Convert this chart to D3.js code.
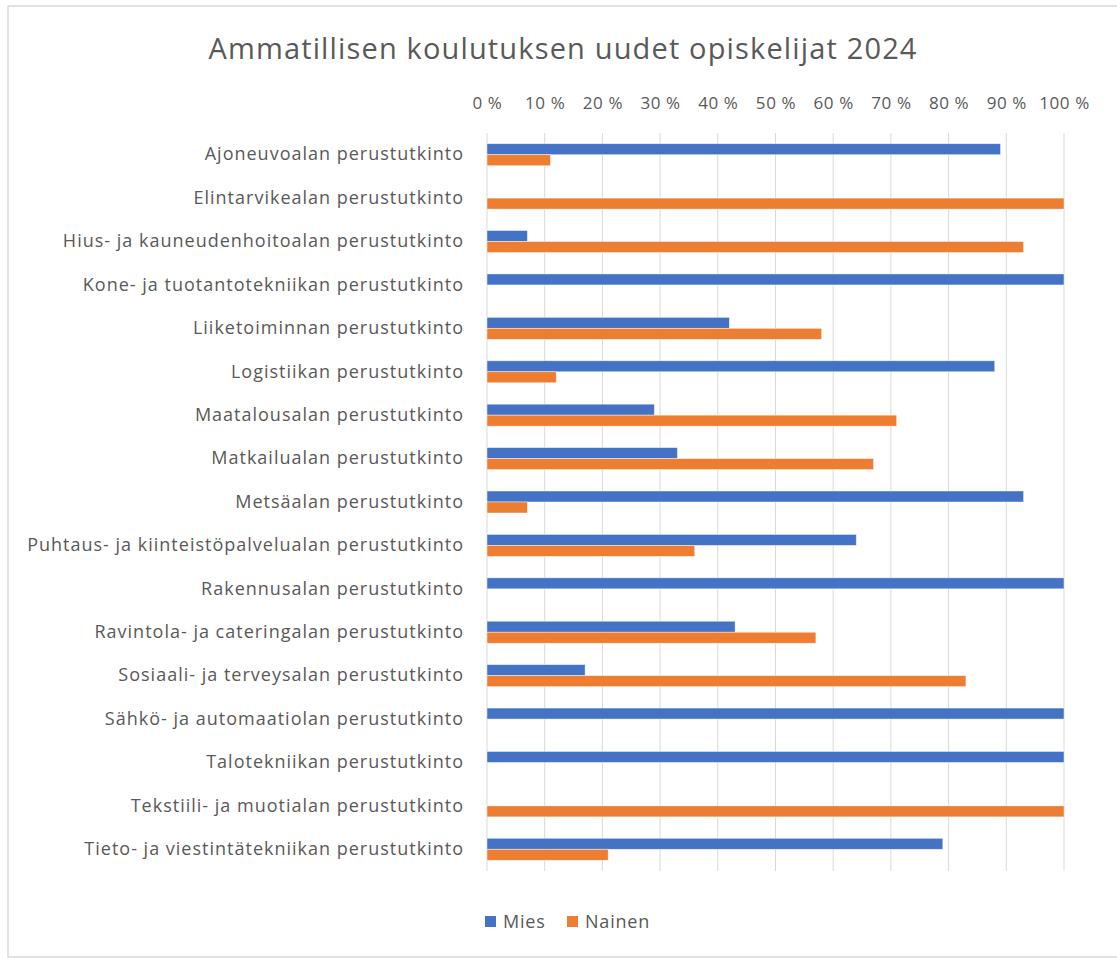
<!DOCTYPE html>
<html>
<head>
<meta charset="utf-8">
<script src="https://cdn.jsdelivr.net/npm/d3@7"></script>
<style>
  body { margin: 0; background: #fff; }
  text { font-family: "Open Sans", sans-serif; fill: #595959; }
</style>
</head>
<body>
<div id="chart"></div>
<script>
// chart data (share of new students, %)
var categories = [
  "Ajoneuvoalan perustutkinto",
  "Elintarvikealan perustutkinto",
  "Hius- ja kauneudenhoitoalan perustutkinto",
  "Kone- ja tuotantotekniikan perustutkinto",
  "Liiketoiminnan perustutkinto",
  "Logistiikan perustutkinto",
  "Maatalousalan perustutkinto",
  "Matkailualan perustutkinto",
  "Metsäalan perustutkinto",
  "Puhtaus- ja kiinteistöpalvelualan perustutkinto",
  "Rakennusalan perustutkinto",
  "Ravintola- ja cateringalan perustutkinto",
  "Sosiaali- ja terveysalan perustutkinto",
  "Sähkö- ja automaatiolan perustutkinto",
  "Talotekniikan perustutkinto",
  "Tekstiili- ja muotialan perustutkinto",
  "Tieto- ja viestintätekniikan perustutkinto"
];
var mies =   [89, 0, 7, 100, 42, 88, 29, 33, 93, 64, 100, 43, 17, 100, 100, 0, 79];
var nainen = [11, 100, 93, 0, 58, 12, 71, 67, 7, 36, 0, 57, 83, 0, 0, 100, 21];
var seriesNames = ["Mies", "Nainen"];
var seriesColors = ["#4472C4", "#ED7D31"];
var tickValues = [0, 10, 20, 30, 40, 50, 60, 70, 80, 90, 100];

var W = 1117, H = 958;
var plot = {left: 487, right: 1064, top: 133, bottom: 871};

var svg = d3.select("#chart").append("svg")
    .attr("width", W)
    .attr("height", H);

// outer chart border (right side runs off the picture)
svg.append("rect")
    .attr("x", 8).attr("y", 6)
    .attr("width", W + 10).attr("height", 951)
    .attr("fill", "#fff")
    .attr("stroke", "#d9d9d9")
    .attr("stroke-width", 1.5);

svg.append("text")
    .attr("x", 563).attr("y", 59)
    .attr("text-anchor", "middle")
    .style("font-size", "29px")
    .style("letter-spacing", "1.15px")
    .text("Ammatillisen koulutuksen uudet opiskelijat 2024");

var x = d3.scaleLinear().domain([0, 100]).range([plot.left, plot.right]);
var y = d3.scaleBand().domain(categories).range([plot.top, plot.bottom]).paddingInner(0).paddingOuter(0);
var inner = d3.scaleBand().domain(seriesNames).range([y.bandwidth() / 2 - 11, y.bandwidth() / 2 + 11]);

// gridlines
svg.append("g").selectAll("line")
    .data(tickValues)
    .join("line")
    .attr("x1", function(d) { return x(d); })
    .attr("x2", function(d) { return x(d); })
    .attr("y1", plot.top)
    .attr("y2", plot.bottom)
    .attr("stroke", "#d9d9d9")
    .attr("stroke-width", 1);

// top axis labels
var xAxis = d3.axisTop(x).tickValues(tickValues).tickSize(0).tickPadding(0)
    .tickFormat(function(d) { return d + " %"; });
var gx = svg.append("g").attr("transform", "translate(0,109)").call(xAxis);
gx.select(".domain").remove();
gx.selectAll("text")
    .style("font-size", "17px")
    .style("letter-spacing", "0.6px")
    .attr("font-family", null)
    .attr("fill", null);

// category labels
var yAxis = d3.axisLeft(y).tickSize(0).tickPadding(0);
var gy = svg.append("g").attr("transform", "translate(464,0)").call(yAxis);
gy.select(".domain").remove();
gy.selectAll("text")
    .style("font-size", "18px")
    .style("letter-spacing", "1px")
    .attr("font-family", null)
    .attr("fill", null);

// bars
var rows = categories.map(function(c, i) {
  return {cat: c, values: [mies[i], nainen[i]]};
});

var groups = svg.append("g").selectAll("g")
    .data(rows)
    .join("g")
    .attr("transform", function(d) { return "translate(0," + y(d.cat) + ")"; });

groups.selectAll("rect")
    .data(function(d) {
      return d.values.map(function(v, j) { return {name: seriesNames[j], value: v, color: seriesColors[j]}; });
    })
    .join("rect")
    .filter(function(d) { return d.value > 0; })
    .attr("x", x(0))
    .attr("y", function(d) { return inner(d.name); })
    .attr("width", function(d) { return x(d.value) - x(0); })
    .attr("height", inner.bandwidth())
    .attr("fill", function(d) { return d.color; })
    .attr("stroke", "#fff")
    .attr("stroke-opacity", 0.6)
    .attr("stroke-width", 0.75);

// legend
var legend = svg.append("g").attr("transform", "translate(485,916)");
var legendX = [0, 82];
seriesNames.forEach(function(name, i) {
  var g = legend.append("g").attr("transform", "translate(" + legendX[i] + ",0)");
  g.append("rect").attr("width", 11).attr("height", 11).attr("fill", seriesColors[i]);
  g.append("text").attr("x", 18).attr("y", 11.5)
      .style("font-size", "18px")
      .style("letter-spacing", "0.8px")
      .text(name);
});
</script>
</body>
</html>
